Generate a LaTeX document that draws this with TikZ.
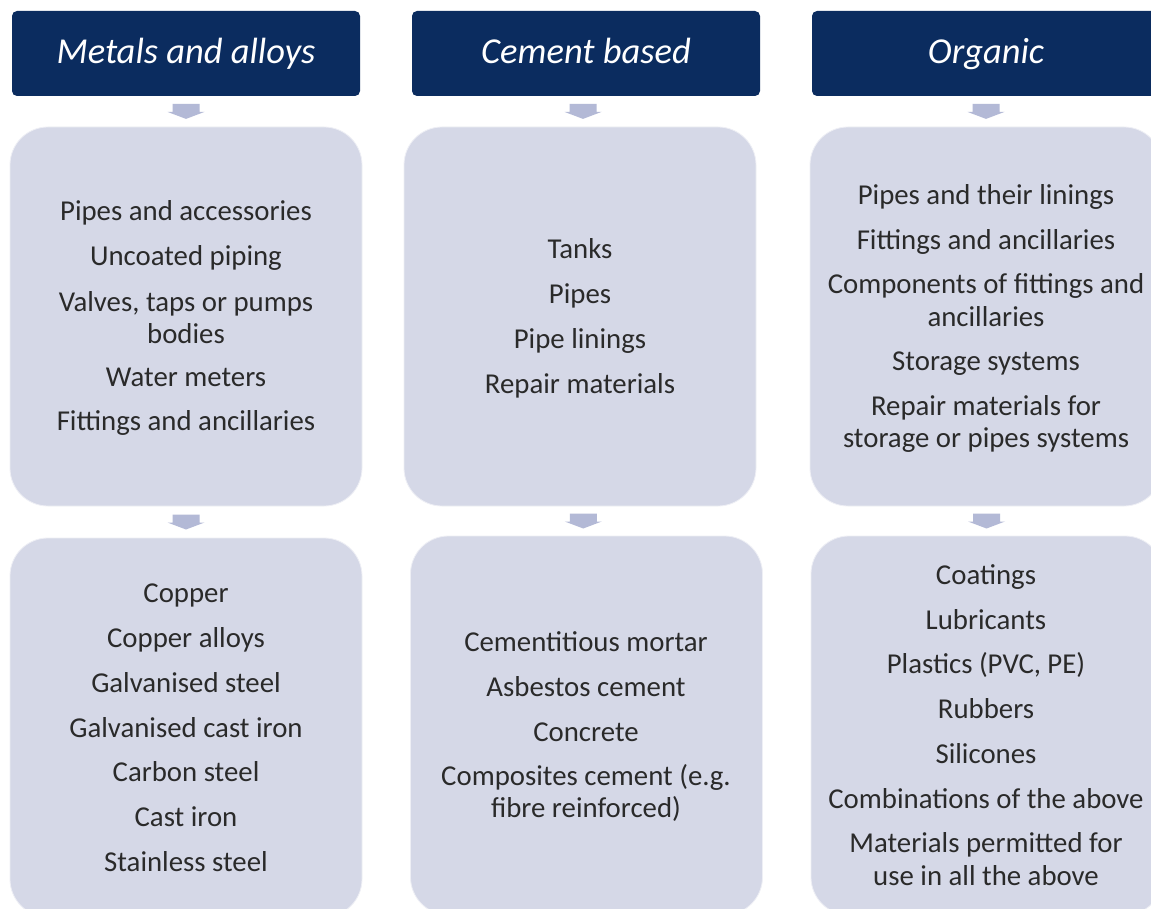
\documentclass[tikz,border=0pt]{standalone}
\usepackage{fontspec}
\setmainfont{Carlito}
\usetikzlibrary{calc}
\definecolor{navy}{HTML}{0B2C5F}
\definecolor{boxc}{HTML}{D5D8E7}
\definecolor{arrc}{HTML}{B3B9D6}
\definecolor{txtc}{HTML}{2A2A2A}
\tikzset{
 headbox/.style={fill=navy, rounded corners=5pt, minimum width=348pt, minimum height=85pt, inner sep=0pt},
 panel/.style={fill=boxc, draw=white!60!boxc, line width=0.8pt, rounded corners=38pt, minimum width=352pt, minimum height=379pt, inner sep=0pt},
 htxt/.style={text=white, font=\fontsize{36.5}{40}\selectfont\itshape, anchor=base, inner sep=0pt},
 itxt/.style={text=txtc, font=\fontsize{28.8}{32}\selectfont, anchor=base, inner sep=0pt, yshift=-1.5pt},
 darrow/.pic={\fill[arrc] (-13.5,-7.5) -- (13.5,-7.5) -- (13.5,0.5) -- (18.5,0.5) -- (0,7.5) -- (-18.5,0.5) -- (-13.5,0.5) -- cycle;}
}
\begin{document}
\begin{tikzpicture}[x=1pt,y=-1pt]
\useasboundingbox (0,0) rectangle (1151,909);
\clip (0,0) rectangle (1151,909);
\fill[white] (0,0) rectangle (1151,909);
% headers
\node[headbox] (h1) at (186,53.5) {};
\node[headbox] (h2) at (586,53.5) {};
\node[headbox] (h3) at (986,53.5) {};
\node[htxt] (h1t) at (186,64) {Metals and alloys};
\node[htxt] (h2t) at (586,64) {Cement based};
\node[htxt] (h3t) at (986,64) {Organic};
% panels
\node[panel] (t1) at (186,316.5) {};
\node[panel] (t2) at (580,316.5) {};
\node[panel] (t3) at (986,316.5) {};
\node[panel] (b1) at (186,727.5) {};
\node[panel] (b2) at (586.5,725.5) {};
\node[panel] (b3) at (987,725.5) {};
% arrows
\path ($(h1.south)!0.5!(t1.north)$) pic {darrow};
\path ($(h2.south)!0.5!(t2.north)$) pic {darrow};
\path ($(h3.south)!0.5!(t3.north)$) pic {darrow};
\path ($(t1.south)!0.5!(b1.north)$) pic {darrow};
\path ($(t2.south)!0.5!(b2.north)$) pic {darrow};
\path ($(t3.south)!0.5!(b3.north)$) pic {darrow};
% texts column 1 top
\foreach \s/\y [count=\i] in {Pipes and accessories/219, Uncoated piping/264, {Valves, taps or pumps}/310, bodies/342, Water meters/385, Fittings and ancillaries/429}
  \node[itxt] (ta\i) at (186,\y) {\s};
% column 2 top
\foreach \s/\y [count=\i] in {Tanks/257, Pipes/302, Pipe linings/347, Repair materials/392}
  \node[itxt] (tb\i) at (580,\y) {\s};
% column 3 top
\foreach \s/\y [count=\i] in {Pipes and their linings/203, Fittings and ancillaries/248, Components of fittings and/292, ancillaries/325, Storage systems/369, Repair materials for/414, storage or pipes systems/446}
  \node[itxt] (tc\i) at (986,\y) {\s};
% column 1 bottom
\foreach \s/\y [count=\i] in {Copper/601, Copper alloys/646, Galvanised steel/691, Galvanised cast iron/736, Carbon steel/780, Cast iron/825, Stainless steel/870}
  \node[itxt] (ba\i) at (186,\y) {\s};
% column 2 bottom
\foreach \s/\y [count=\i] in {Cementitious mortar/650, Asbestos cement/695, Concrete/740, Composites cement (e.g./784, fibre reinforced)/816}
  \node[itxt] (bb\i) at (586,\y) {\s};
% column 3 bottom
\foreach \s/\y [count=\i] in {Coatings/583, Lubricants/628, {Plastics (PVC, PE)}/672, Rubbers/717, Silicones/762, Combinations of the above/807, Materials permitted for/851, use in all the above/884}
  \node[itxt] (bc\i) at (986,\y) {\s};
\end{tikzpicture}
\end{document}
